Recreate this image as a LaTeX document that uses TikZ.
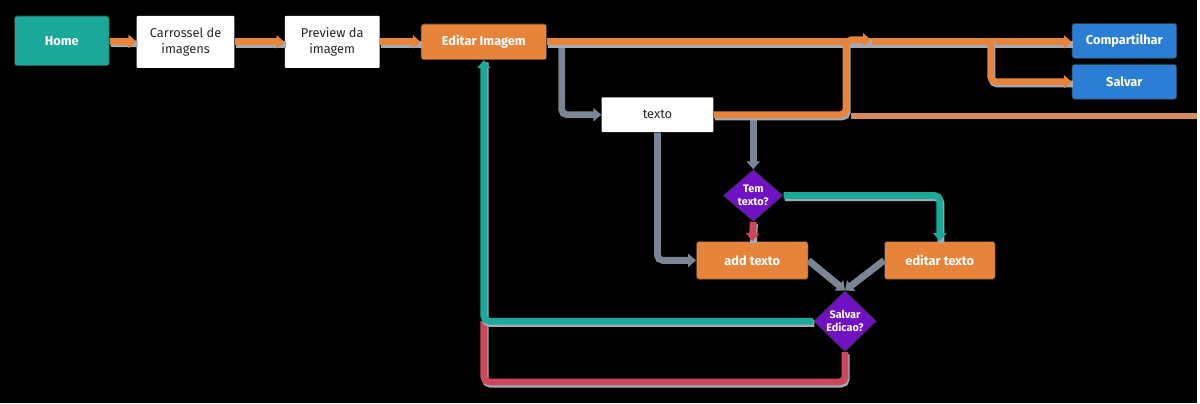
\documentclass[tikz,border=0pt]{standalone}
\usepackage{fontspec}
\setmainfont{Fira Sans}
\usetikzlibrary{arrows.meta,shapes.geometric}

\definecolor{flowteal}{RGB}{27,170,153}
\definecolor{floworange}{RGB}{232,132,58}
\definecolor{lightorange}{RGB}{214,140,90}
\definecolor{flowblue}{RGB}{42,127,212}
\definecolor{flowpurple}{RGB}{112,18,196}
\definecolor{flowred}{RGB}{206,70,92}
\definecolor{flowgrey}{RGB}{122,134,148}
\definecolor{textdark}{RGB}{40,40,40}

\tikzset{
  box/.style={rectangle, rounded corners=1.5pt, align=center, inner sep=1pt,
    font=\fontsize{7.3}{9.5}\selectfont},
  colbox/.style={box, fill=#1, draw=black!80, text=white, font=\fontsize{7.3}{9.5}\selectfont\bfseries},
  paperbox/.style={box, fill=white, text=textdark, rounded corners=0.5pt},
  decision/.style={diamond, fill=flowpurple, draw=black!80, text=white, align=center,
    inner sep=0pt, font=\fontsize{6.2}{7.4}\selectfont\bfseries},
  flow/.style={draw=#1, line width=3.9pt, rounded corners=3pt,
    -{Triangle[length=4.5pt,width=7.5pt]},
    preaction={draw=flowgrey!70, line width=3.9pt, -, transform canvas={shift={(0.7pt,-1.3pt)}}}},
  greyflow/.style={draw=flowgrey, line width=3.9pt, rounded corners=3pt,
    -{Triangle[length=4.5pt,width=7.5pt]}},
}

\begin{document}
\begin{tikzpicture}[x=0.02cm, y=-0.02cm]
	\fill[black] (0,0) rectangle (1200,404);

	% nodes
	\node[colbox=flowteal, minimum width=1.9cm, minimum height=1cm] (home) at (62,41) {Home};
	\node[paperbox, minimum width=1.96cm, minimum height=1.04cm] (carrossel) at (186,42) {Carrossel de\\imagens};
	\node[paperbox, minimum width=1.9cm, minimum height=1.04cm] (preview) at (333,42) {Preview da\\imagem};
	\node[colbox=floworange, minimum width=2.52cm, minimum height=0.72cm] (editar) at (485,42) {Editar Imagem};
	\node[colbox=flowblue, minimum width=2.1cm, minimum height=0.7cm] (compartilhar) at (1127,41) {Compartilhar};
	\node[colbox=flowblue, minimum width=2.1cm, minimum height=0.7cm] (salvar) at (1127,82) {Salvar};
	\node[paperbox, minimum width=2.24cm, minimum height=0.7cm] (texto) at (659,115) {texto};
	\node[decision, minimum width=1.2cm, minimum height=1.04cm] (temtexto) at (755,196) {Tem\\texto?};
	\node[colbox=floworange, minimum width=2.24cm, minimum height=0.76cm] (addtexto) at (754,261) {add texto};
	\node[colbox=floworange, minimum width=2.22cm, minimum height=0.76cm] (editartexto) at (942,261) {editar texto};
	\node[decision, minimum width=1.26cm, minimum height=1.22cm] (salvaredicao) at (847,322) {Salvar\\Edicao?};

	\coordinate (juncao) at (873,40);
	\coordinate (subida) at (848,40);
	\coordinate (desvio) at (993,40);
	\coordinate (saida) at (563,42);
	\coordinate (cauda) at (853,116);
	\coordinate (borda) at (1200,116);

	% main line
	\draw[flow=floworange] (home) -- (carrossel);
	\draw[flow=floworange] (carrossel) -- (preview);
	\draw[flow=floworange] (preview) -- (editar);
	\draw[greyflow] (saida) |- (texto.west);
	\draw[flow=floworange] (editar.east) -- (editar.east -| compartilhar.west);
	\draw[flow=floworange] (desvio) |- (salvar.west);
	\draw[draw=lightorange, line width=3.2pt] (cauda) -- (borda);

	% texto
	\draw[greyflow] (texto.south) |- (addtexto.west);
	\draw[greyflow] (texto.east -| temtexto.north) -- (temtexto.north);
	\draw[flow=floworange] (texto.east) -| (subida) -- (juncao);
	\draw[flow=flowred] (temtexto.south) -- (addtexto.north);
	\draw[flow=flowteal] (temtexto.east) -| (editartexto.north);
	\draw[greyflow] (addtexto.east) -- (salvaredicao.north);
	\draw[greyflow] (editartexto.west) -- (salvaredicao.north);

	% back to editar
	\draw[flow=flowred, -] (salvaredicao.south) -- ++(0,30) -| (salvaredicao.west -| editar.south);
	\draw[flow=flowteal] (salvaredicao.west) -| (editar.south);
\end{tikzpicture}
\end{document}
